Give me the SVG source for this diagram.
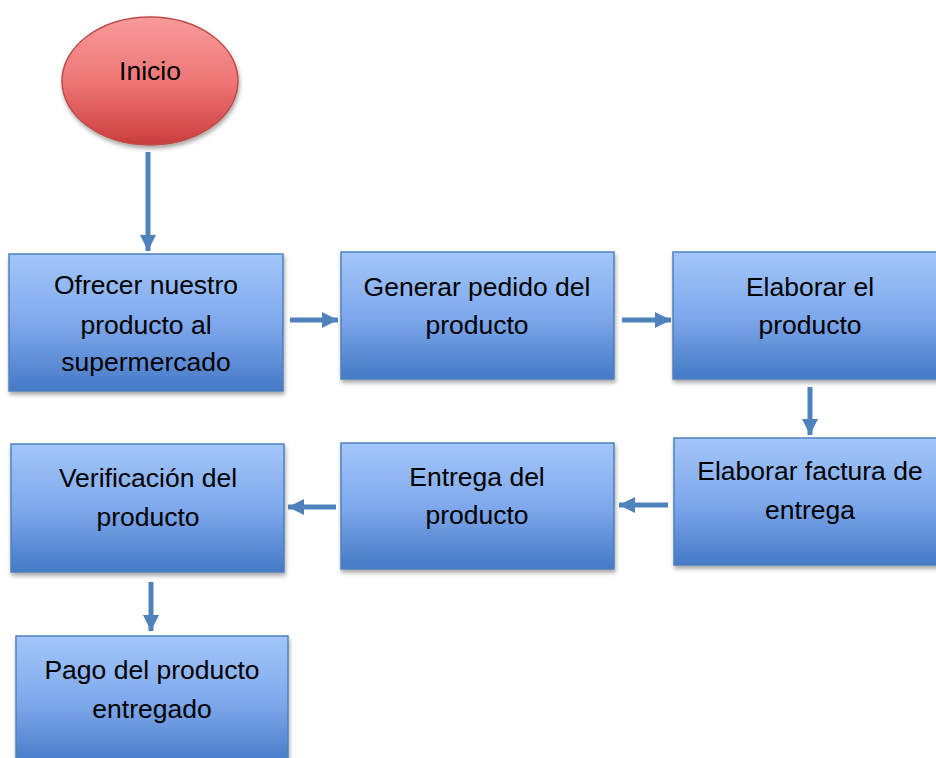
<svg xmlns="http://www.w3.org/2000/svg" width="936" height="758" viewBox="0 0 936 758">
<defs>
<linearGradient id="gBlue" x1="0" y1="0" x2="0" y2="1">
<stop offset="0" stop-color="#A3C6FA"/>
<stop offset="0.5" stop-color="#7FA9EC"/>
<stop offset="1" stop-color="#4579C6"/>
</linearGradient>
<linearGradient id="gRed" x1="0" y1="0" x2="0" y2="1">
<stop offset="0" stop-color="#F89A9A"/>
<stop offset="0.5" stop-color="#EE7676"/>
<stop offset="1" stop-color="#CB3D3D"/>
</linearGradient>
<filter id="sh" x="-10%" y="-10%" width="125%" height="130%">
<feDropShadow dx="1" dy="3" stdDeviation="2" flood-color="#000" flood-opacity="0.35"/>
</filter>
<marker id="ah" viewBox="0 0 10 10" refX="10" refY="5" markerWidth="3.2" markerHeight="3.2" orient="auto" markerUnits="strokeWidth">
<path d="M0,0 L10,5 L0,10 Z" fill="#4F81BD"/>
</marker>
</defs>
<style>
.box{fill:url(#gBlue);stroke:#4F81BD;stroke-width:1.5;filter:url(#sh)}
.t{font-family:"Liberation Sans",Arial,sans-serif;font-size:26.5px;fill:#000;text-anchor:middle}
.c{fill:none;stroke:#4F81BD;stroke-width:5;marker-end:url(#ah)}
</style>
<g id="inicio">
<ellipse cx="150" cy="81" rx="88" ry="64" fill="url(#gRed)" stroke="#BE4B48" stroke-width="1.5" filter="url(#sh)"/>
<text class="t" x="150" y="80">Inicio</text>
</g>
<g id="n1">
<rect class="box" x="9" y="254" width="274" height="137"/>
<text class="t" x="146" y="294">Ofrecer nuestro</text>
<text class="t" x="146" y="334">producto al</text>
<text class="t" x="146" y="371">supermercado</text>
</g>
<g id="n2">
<rect class="box" x="341" y="252" width="273" height="127"/>
<text class="t" x="477" y="296">Generar pedido del</text>
<text class="t" x="477" y="334">producto</text>
</g>
<g id="n3">
<rect class="box" x="673" y="252" width="270" height="127"/>
<text class="t" x="810" y="296">Elaborar el</text>
<text class="t" x="810" y="334">producto</text>
</g>
<g id="n4">
<rect class="box" x="674" y="438" width="270" height="127"/>
<text class="t" x="810" y="480">Elaborar factura de</text>
<text class="t" x="810" y="519">entrega</text>
</g>
<g id="n5">
<rect class="box" x="341" y="443" width="273" height="126"/>
<text class="t" x="477" y="486">Entrega del</text>
<text class="t" x="477" y="524">producto</text>
</g>
<g id="n6">
<rect class="box" x="11" y="444" width="273" height="128"/>
<text class="t" x="148" y="487">Verificación del</text>
<text class="t" x="148" y="526">producto</text>
</g>
<g id="n7">
<rect class="box" x="16" y="636" width="272" height="130"/>
<text class="t" x="152" y="679">Pago del producto</text>
<text class="t" x="152" y="718">entregado</text>
</g>
<g id="connectors">
<line class="c" x1="148" y1="152" x2="148" y2="251"/>
<line class="c" x1="290" y1="320" x2="338" y2="320"/>
<line class="c" x1="622" y1="320" x2="671" y2="320"/>
<line class="c" x1="810" y1="387" x2="810" y2="435"/>
<line class="c" x1="668" y1="505" x2="619" y2="505"/>
<line class="c" x1="336" y1="507" x2="288" y2="507"/>
<line class="c" x1="151" y1="582" x2="151" y2="631"/>
</g>
</svg>
